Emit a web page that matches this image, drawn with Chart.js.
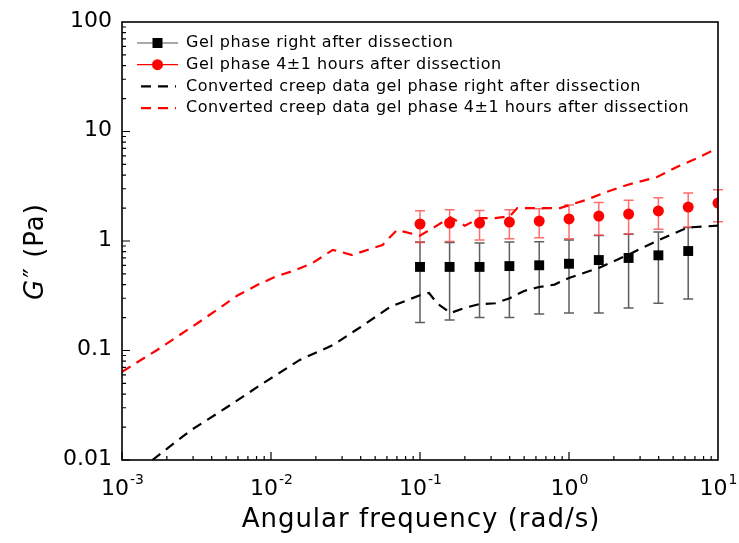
<!DOCTYPE html>
<html>
<head>
<meta charset="utf-8">
<script src="https://cdn.jsdelivr.net/npm/chart.js@4.4.1/dist/chart.umd.min.js"></script>
<style>
  html, body { margin: 0; padding: 0; background: #fff; }
  #wrap { width: 739px; height: 543px; }
</style>
</head>
<body>
<div id="wrap"><canvas id="grafico" width="739" height="543"></canvas></div>
<script>
// Dados
const freqs = [0.1, 0.158, 0.251, 0.398, 0.631, 1, 1.585, 2.512, 3.981, 6.31, 10];

const gelRight = [0.58, 0.58, 0.58, 0.59, 0.60, 0.62, 0.67, 0.70, 0.74, 0.81];
const gelRightErr = [0.40, 0.39, 0.38, 0.39, 0.385, 0.40, 0.45, 0.455, 0.47, 0.515];

const gel4h = [1.43, 1.46, 1.46, 1.49, 1.52, 1.59, 1.69, 1.76, 1.88, 2.04, 2.22];
const gel4hErr = [0.46, 0.47, 0.44, 0.44, 0.45, 0.54, 0.56, 0.6, 0.6, 0.7, 0.72];

const creepRightX = [0.0016, 0.0029, 0.005, 0.0088, 0.0156, 0.026, 0.04, 0.063, 0.1, 0.115, 0.13, 0.16, 0.2, 0.25, 0.32, 0.4, 0.5, 0.63, 0.8, 1.0, 1.6, 2.5, 4.0, 6.3, 10];
const creepRightY = [0.01, 0.0187, 0.030, 0.05, 0.082, 0.112, 0.164, 0.25, 0.32, 0.335, 0.27, 0.22, 0.245, 0.265, 0.27, 0.30, 0.35, 0.38, 0.40, 0.46, 0.57, 0.75, 1.02, 1.33, 1.38];

const creep4hX = [0.001, 0.0017, 0.0033, 0.006, 0.0082, 0.0106, 0.0145, 0.019, 0.026, 0.035, 0.056, 0.07, 0.1, 0.125, 0.16, 0.2, 0.25, 0.32, 0.4, 0.45, 0.63, 0.87, 1.3, 1.7, 2.45, 3.9, 5.3, 7.2, 10];
const creep4hY = [0.064, 0.1, 0.182, 0.32, 0.40, 0.47, 0.54, 0.63, 0.83, 0.745, 0.92, 1.26, 1.12, 1.34, 1.65, 1.38, 1.62, 1.62, 1.68, 2.0, 2.0, 2.0, 2.37, 2.74, 3.25, 3.84, 4.74, 5.7, 7.05];

const legendLabels = [
  "Gel phase right after dissection",
  "Gel phase 4\u00b11 hours after dissection",
  "Converted creep data gel phase right after dissection",
  "Converted creep data gel phase 4\u00b11 hours after dissection"
];

const FONT = '"DejaVu Sans", Verdana, sans-serif';
const pts = (xs, ys) => ys.map((y, i) => ({ x: xs[i], y: y }));

// Barras de erro, eixos, ticks internos, legenda
const extras = {
  id: 'extras',
  beforeDatasetsDraw(chart) {
    const ctx = chart.ctx;
    const yS = chart.scales.y;
    chart.data.datasets.forEach((ds, di) => {
      if (!ds.err) return;
      const meta = chart.getDatasetMeta(di);
      ctx.save();
      ctx.strokeStyle = ds.errColor;
      ctx.lineWidth = 1.5;
      meta.data.forEach((p, i) => {
        const v = ds.data[i].y, e = ds.err[i];
        const top = yS.getPixelForValue(v + e);
        const bot = yS.getPixelForValue(v - e);
        ctx.beginPath();
        ctx.moveTo(p.x, top); ctx.lineTo(p.x, bot);
        ctx.moveTo(p.x - 5, top); ctx.lineTo(p.x + 5, top);
        ctx.moveTo(p.x - 5, bot); ctx.lineTo(p.x + 5, bot);
        ctx.stroke();
      });
      ctx.restore();
    });
  },
  afterDraw(chart) {
    const ctx = chart.ctx;
    const a = chart.chartArea;
    const xS = chart.scales.x, yS = chart.scales.y;
    ctx.save();
    ctx.strokeStyle = '#000';
    ctx.lineWidth = 1.6;
    ctx.strokeRect(a.left, a.top, a.right - a.left, a.bottom - a.top);

    // ticks internos
    ctx.lineWidth = 1.2;
    ctx.beginPath();
    for (let e = -3; e < 1; e++) {
      for (let m = 1; m < 10; m++) {
        const px = xS.getPixelForValue(m * Math.pow(10, e));
        const len = m === 1 ? 8 : 4;
        ctx.moveTo(px, a.bottom); ctx.lineTo(px, a.bottom - len);
      }
    }
    for (let e = -2; e < 2; e++) {
      for (let m = 1; m < 10; m++) {
        const py = yS.getPixelForValue(m * Math.pow(10, e));
        const len = m === 1 ? 8 : 4;
        ctx.moveTo(a.left, py); ctx.lineTo(a.left + len, py);
      }
    }
    ctx.stroke();

    // rótulos do eixo y
    ctx.fillStyle = '#000';
    ctx.font = '22px ' + FONT;
    ctx.textAlign = 'right';
    ctx.textBaseline = 'middle';
    yS.ticks.forEach(t => {
      ctx.fillText(String(t.value), a.left - 10, yS.getPixelForValue(t.value) - 1);
    });

    // rótulos do eixo x com expoente
    ctx.textBaseline = 'alphabetic';
    ctx.textAlign = 'left';
    xS.ticks.forEach(t => {
      const ex = String(Math.round(Math.log10(t.value)));
      ctx.font = '22px ' + FONT;
      const wb = ctx.measureText('10').width;
      ctx.font = '14px ' + FONT;
      const we = ctx.measureText(ex).width;
      const x0 = xS.getPixelForValue(t.value) - (wb + we) / 2;
      ctx.font = '22px ' + FONT;
      ctx.fillText('10', x0, a.bottom + 35);
      ctx.font = '14px ' + FONT;
      ctx.fillText(ex, x0 + wb + 1, a.bottom + 24);
    });

    // títulos dos eixos
    ctx.font = '26px ' + FONT;
    ctx.letterSpacing = '1px';
    ctx.textAlign = 'center';
    ctx.textBaseline = 'middle';
    ctx.fillText('Angular frequency (rad/s)', 421, 520);

    ctx.save();
    ctx.translate(36, 252);
    ctx.rotate(-Math.PI / 2);
    ctx.font = 'italic 26px ' + FONT;
    const wG = ctx.measureText('G').width;
    ctx.font = '26px ' + FONT;
    const rest = '\u2033 (Pa)';
    const wR = ctx.measureText(rest).width;
    ctx.textAlign = 'left';
    ctx.font = 'italic 26px ' + FONT;
    ctx.fillText('G', -(wG + wR) / 2, 0);
    ctx.font = '26px ' + FONT;
    ctx.fillText(rest, -(wG + wR) / 2 + wG + 1, 0);
    ctx.restore();

    // legenda
    ctx.font = '16px ' + FONT;
    ctx.letterSpacing = '0.5px';
    ctx.textAlign = 'left';
    ctx.textBaseline = 'middle';
    [0, 1, 2, 3].forEach(di => {
      const ds = chart.data.datasets[di];
      const y = 43 + di * 21.7;
      ctx.save();
      if (ds.showLine) {
        ctx.strokeStyle = ds.borderColor;
        ctx.lineWidth = 2.2;
        ctx.setLineDash(ds.borderDash);
        ctx.beginPath(); ctx.moveTo(141, y); ctx.lineTo(176, y); ctx.stroke();
      } else {
        ctx.strokeStyle = ds.legendLine;
        ctx.lineWidth = 1.2;
        ctx.beginPath(); ctx.moveTo(137, y); ctx.lineTo(178, y); ctx.stroke();
        ctx.fillStyle = ds.backgroundColor;
        if (ds.pointStyle === 'rect') {
          ctx.fillRect(152.5, y - 5, 10, 10);
        } else {
          ctx.beginPath(); ctx.arc(157.5, y, 5.5, 0, Math.PI * 2); ctx.fill();
        }
      }
      ctx.restore();
      ctx.fillText(ds.label, 186, y);
    });
    ctx.restore();
  }
};

const decades = (min, max) => scale => {
  const t = [];
  for (let e = min; e <= max; e++) t.push({ value: Math.pow(10, e) });
  scale.ticks = t;
};

new Chart(document.getElementById('grafico').getContext('2d'), {
  type: 'scatter',
  data: {
    datasets: [
      {
        label: legendLabels[0],
        data: pts(freqs, gelRight),
        err: gelRightErr,
        errColor: 'rgba(40,40,40,0.75)',
        legendLine: '#555',
        pointStyle: 'rect',
        pointRadius: 7,
        backgroundColor: '#000',
        borderColor: '#000',
        borderWidth: 0,
        order: 2
      },
      {
        label: legendLabels[1],
        data: pts(freqs, gel4h),
        err: gel4hErr,
        errColor: 'rgba(255,60,60,0.75)',
        legendLine: '#ff0000',
        pointStyle: 'circle',
        pointRadius: 5.5,
        backgroundColor: '#ff0000',
        borderColor: '#ff0000',
        borderWidth: 0,
        order: 1
      },
      {
        label: legendLabels[2],
        data: pts(creepRightX, creepRightY),
        showLine: true,
        borderColor: '#000',
        borderWidth: 2.2,
        borderDash: [10, 7],
        pointRadius: 0,
        order: 0
      },
      {
        label: legendLabels[3],
        data: pts(creep4hX, creep4hY),
        showLine: true,
        borderColor: '#ff0000',
        borderWidth: 2.2,
        borderDash: [10, 7],
        pointRadius: 0,
        order: 0
      }
    ]
  },
  options: {
    responsive: false,
    animation: false,
    layout: { padding: { top: 22, right: 21, left: 0, bottom: 0 } },
    plugins: { legend: { display: false }, tooltip: { enabled: false } },
    scales: {
      x: {
        type: 'logarithmic',
        min: 0.001,
        max: 10,
        grid: { display: false },
        border: { display: false },
        ticks: { display: false },
        afterBuildTicks: decades(-3, 1),
        afterFit: s => { s.height = 83; }
      },
      y: {
        type: 'logarithmic',
        min: 0.01,
        max: 100,
        grid: { display: false },
        border: { display: false },
        ticks: { display: false },
        afterBuildTicks: decades(-2, 2),
        afterFit: s => { s.width = 122; }
      }
    }
  },
  plugins: [extras]
});
</script>
</body>
</html>
